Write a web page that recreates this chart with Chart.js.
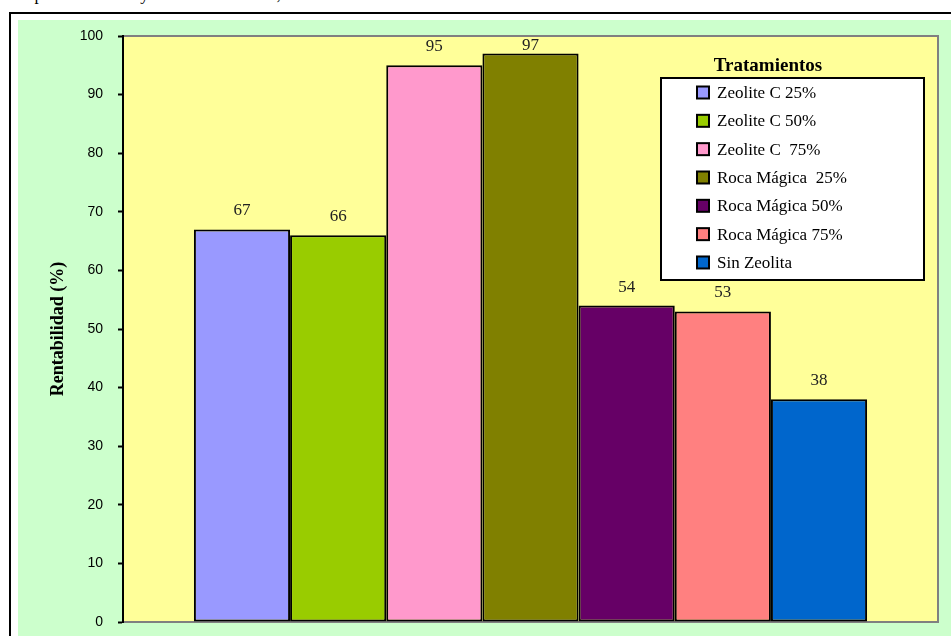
<!DOCTYPE html>
<html>
<head>
<meta charset="utf-8">
<script src="https://cdn.jsdelivr.net/npm/chart.js@4"></script>
<style>
  body { margin: 0; background: #fff; width: 951px; height: 636px; overflow: hidden; position: relative; }
  #cut { position: absolute; left: 0; top: -15px; font: 17px "Liberation Serif", serif; color: #000; white-space: nowrap; }
  #frame { position: absolute; left: 9px; top: 12px; width: 960px; height: 640px; border-left: 2px solid #000; border-top: 2px solid #000; }
  #box { position: absolute; left: 18px; top: 20px; width: 933px; height: 616px; background: #CCFFCC; }
</style>
</head>
<body>
<div id="cut">Se reportaron las mayores rentabilidades, 63</div>
<div id="frame"></div>
<div id="box"><canvas id="rentChart"></canvas></div>
<script>
var treatments = ['Zeolite C 25%', 'Zeolite C 50%', 'Zeolite C  75%', 'Roca Mágica  25%', 'Roca Mágica 50%', 'Roca Mágica 75%', 'Sin Zeolita'];
var rentabilidad = [67, 66, 95, 97, 54, 53, 38];
var barColors = ['#9999FF', '#99CC00', '#FF99CC', '#808000', '#660066', '#FF8080', '#0066CC'];
var legendTitle = 'Tratamientos';

var datasets = treatments.map(function (name, i) {
    return {
        label: name,
        data: [rentabilidad[i]],
        backgroundColor: barColors[i],
        borderColor: '#000',
        borderWidth: 2,
        borderSkipped: false
    };
});

// yellow plot background + grey frame
var plotFrame = {
    id: 'plotFrame',
    beforeDraw: function (chart) {
        var a = chart.chartArea, ctx = chart.ctx;
        ctx.save();
        ctx.fillStyle = '#FFFF99';
        ctx.fillRect(a.left, a.top, a.right - a.left, a.bottom - a.top);
        ctx.restore();
    },
    beforeDatasetsDraw: function (chart) {
        var a = chart.chartArea, ctx = chart.ctx;
        ctx.save();
        ctx.strokeStyle = '#808080';
        ctx.lineWidth = 2;
        ctx.beginPath();
        ctx.moveTo(a.left + 1, a.top);
        ctx.lineTo(a.right, a.top);
        ctx.lineTo(a.right, a.bottom);
        ctx.lineTo(a.left + 1, a.bottom);
        ctx.stroke();
        ctx.restore();
    }
};

// value labels over the bars
var barValues = {
    id: 'barValues',
    afterDatasetsDraw: function (chart) {
        var ctx = chart.ctx, top = chart.chartArea.top;
        ctx.save();
        ctx.font = '17px "Liberation Serif", serif';
        ctx.fillStyle = '#222';
        ctx.textAlign = 'center';
        ctx.textBaseline = 'alphabetic';
        chart.data.datasets.forEach(function (ds, i) {
            var bar = chart.getDatasetMeta(i).data[0];
            var y = Math.max(bar.y - 14, top + 14);
            ctx.fillText(ds.data[0], bar.x, y);
        });
        ctx.restore();
    }
};

// boxed legend inside the plot
var boxLegend = {
    id: 'boxLegend',
    afterDraw: function (chart) {
        var ctx = chart.ctx;
        var bx = 643, by = 58, bw = 263, bh = 202;
        ctx.save();
        ctx.fillStyle = '#fff';
        ctx.fillRect(bx, by, bw, bh);
        ctx.strokeStyle = '#000';
        ctx.lineWidth = 2;
        ctx.strokeRect(bx, by, bw, bh);
        ctx.fillStyle = '#000';
        ctx.font = 'bold 19px "Liberation Serif", serif';
        ctx.textAlign = 'center';
        ctx.textBaseline = 'alphabetic';
        ctx.fillText(legendTitle, 750, 51);
        ctx.font = '17px "Liberation Serif", serif';
        ctx.textAlign = 'left';
        ctx.textBaseline = 'middle';
        chart.data.datasets.forEach(function (ds, i) {
            var y = 72.5 + i * 28.33;
            ctx.fillStyle = ds.backgroundColor;
            ctx.fillRect(679, y - 6, 12, 12);
            ctx.strokeStyle = '#000';
            ctx.lineWidth = 2;
            ctx.strokeRect(679, y - 6, 12, 12);
            ctx.fillStyle = '#000';
            ctx.fillText(ds.label, 699, y + 1);
        });
        ctx.restore();
    }
};

var ctx = document.getElementById('rentChart').getContext('2d');
var chart = new Chart(ctx, {
    type: 'bar',
    data: {
        labels: [''],
        datasets: datasets
    },
    options: {
        responsive: true,
        maintainAspectRatio: false,
        animation: false,
        layout: { padding: { top: 16, right: 13, bottom: 14, left: 0 } },
        datasets: { bar: { categoryPercentage: 0.826, barPercentage: 1 } },
        plugins: {
            legend: { display: false },
            tooltip: { enabled: false }
        },
        scales: {
            x: { display: false },
            y: {
                min: 0,
                max: 100,
                afterFit: function (scale) {
                    scale.width = 105;
                    scale.paddingTop = 0;
                    scale.paddingBottom = 0;
                },
                ticks: {
                    stepSize: 10,
                    color: '#000',
                    padding: 15,
                    font: { family: '"Liberation Sans", Arial, sans-serif', size: 14 }
                },
                grid: { drawOnChartArea: false, tickLength: 5, tickColor: '#000', tickWidth: 2 },
                border: { color: '#000', width: 2 },
                title: {
                    display: true,
                    text: 'Rentabilidad (%)',
                    color: '#000',
                    padding: { top: 30, bottom: 0 },
                    font: { family: '"Liberation Serif", serif', size: 18, weight: 'bold' }
                }
            }
        }
    },
    plugins: [plotFrame, barValues, boxLegend]
});
</script>
</body>
</html>
